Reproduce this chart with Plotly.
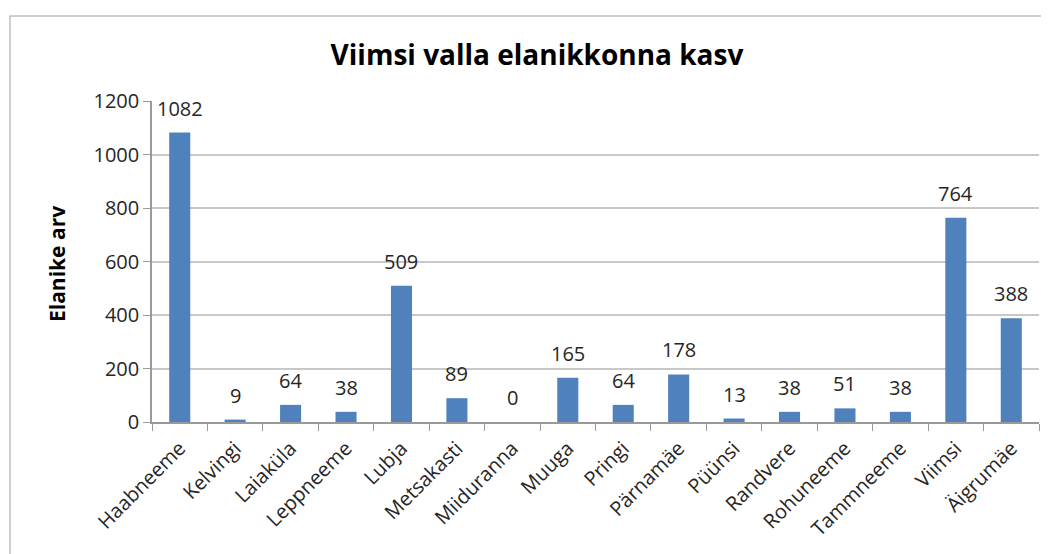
import plotly.graph_objects as go

categories = ["Haabneeme", "Kelvingi", "Laiaküla", "Leppneeme", "Lubja", "Metsakasti",
              "Miiduranna", "Muuga", "Pringi", "Pärnamäe", "Püünsi", "Randvere",
              "Rohuneeme", "Tammneeme", "Viimsi", "Äigrumäe"]
values = [1082, 9, 64, 38, 509, 89, 0, 165, 64, 178, 13, 38, 51, 38, 764, 388]
y_ticks = [0, 200, 400, 600, 800, 1000, 1200]

OFF = 8  # default page body margin
W, H = 1049 - OFF, 554 - OFF
# plot area in page pixels: x 152..1039, y 101..422
L, T = 152 - OFF, 101 - OFF
R = W - (1039 - OFF)
B = H - (422 - OFF)
PW, PH = W - L - R, H - T - B


def px(xpage):
    return (xpage - OFF - L) / PW


def py(ypage):
    return 1 - (ypage - OFF - T) / PH


fig = go.Figure(go.Bar(
    x=categories, y=values,
    marker=dict(color="#4f81bd", line=dict(width=0)),
    hoverinfo="x+y",
))

label_annotations = [
    dict(x=c, y=v, xref="x", yref="y", text=str(v), showarrow=False,
         yanchor="bottom", xanchor="center", yshift=9,
         font=dict(family="Open Sans", size=20, color="#262626"))
    for c, v in zip(categories, values)
]

fig.update_layout(
    width=W, height=H,
    margin=dict(l=L, r=R, t=T, b=B, autoexpand=False),
    paper_bgcolor="white", plot_bgcolor="white",
    bargap=0.62,
    showlegend=False,
    title=dict(text="<b>Viimsi valla elanikkonna kasv</b>", x=(537 - OFF) / W, xanchor="center",
               y=1 - (55 - OFF) / H, yanchor="middle",
               font=dict(family="Open Sans", size=28, color="#000000")),
    font=dict(family="Open Sans", color="#262626"),
    shapes=[dict(type="rect", xref="paper", yref="paper",
                 x0=px(10), x1=px(1070),
                 y0=py(580), y1=py(16),
                 line=dict(color="#bfbfbf", width=1.5), fillcolor="rgba(0,0,0,0)", layer="below")],
    annotations=label_annotations + [
        dict(text="<b>Elanike arv</b>", xref="paper", yref="paper",
             x=px(57), y=py(264), xanchor="center", yanchor="middle",
             textangle=-90, showarrow=False,
             font=dict(family="Open Sans", size=21, color="#000000"))],
)

fig.update_xaxes(
    type="category", tickangle=-45, tickson="boundaries", automargin=False,
    ticks="outside", ticklen=7, tickcolor="#999999", tickwidth=1,
    showline=True, linecolor="#999999", linewidth=1.5,
    tickfont=dict(family="Open Sans", size=20, color="#262626"),
    ticklabelstandoff=5,
    showgrid=False,
)
fig.update_yaxes(
    range=[0, 1200], tickvals=y_ticks, ticktext=[str(v) for v in y_ticks], automargin=False,
    ticks="outside", ticklen=7, tickcolor="#999999",
    showline=True, linecolor="#999999", linewidth=1.5,
    showgrid=True, gridcolor="#c8c8c8", gridwidth=2,
    tickfont=dict(family="Open Sans", size=20, color="#262626"),
    zeroline=False,
)

fig.write_html("out.html")
